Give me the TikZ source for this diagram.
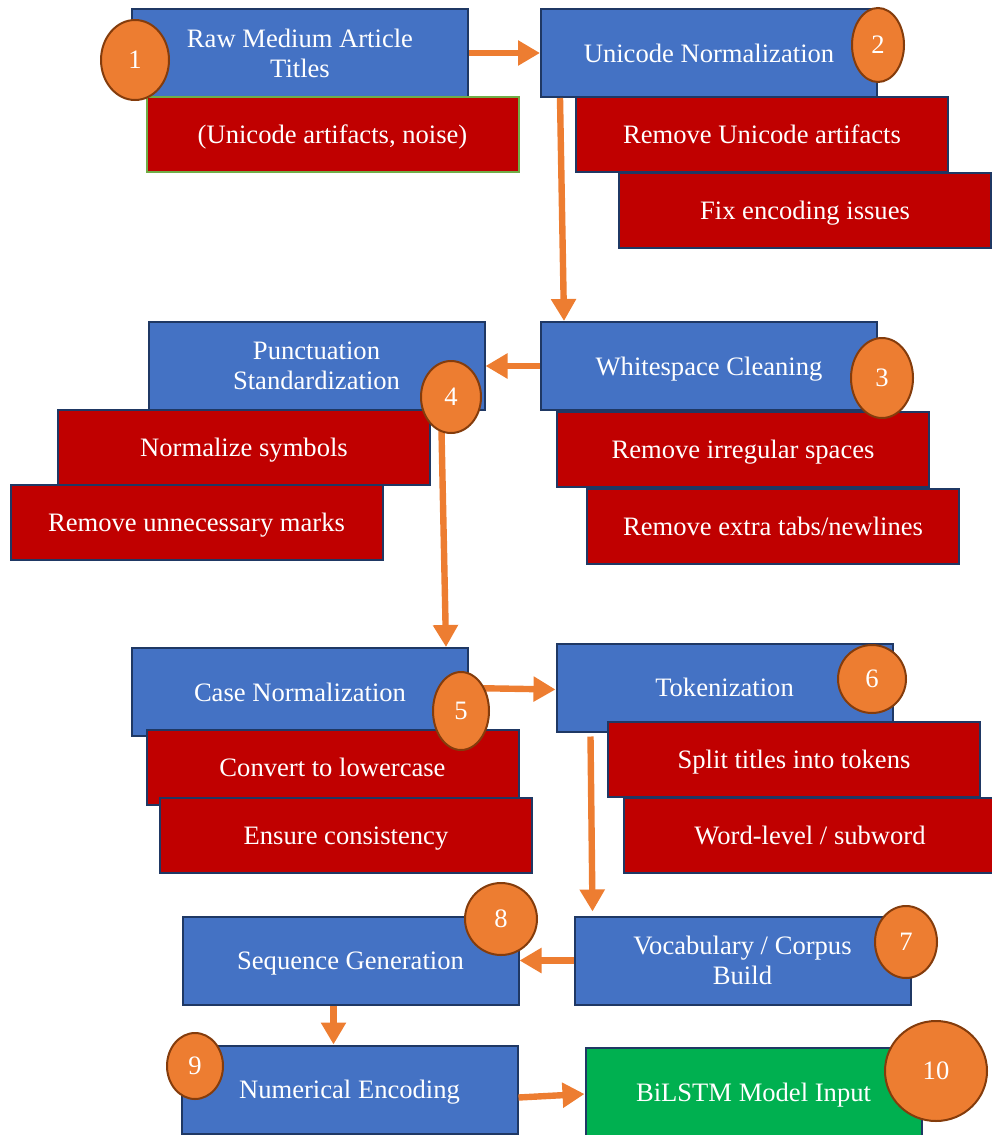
\documentclass[tikz,border=0pt]{standalone}
\usepackage{fontspec}
\setmainfont{Liberation Serif}
\usetikzlibrary{arrows.meta}
\usetikzlibrary{shapes.geometric}

\definecolor{stepblue}{HTML}{4472C4}
\definecolor{navy}{HTML}{1F3864}
\definecolor{darkred}{HTML}{C00000}
\definecolor{badgeorange}{HTML}{ED7D31}
\definecolor{badgeline}{HTML}{843C0C}
\definecolor{outgreen}{HTML}{00B050}
\definecolor{leafgreen}{HTML}{70AD47}

\begin{document}
\begin{tikzpicture}[x=0.5pt, y=-0.5pt,
    font=\fontsize{13.3}{15}\selectfont,
    mainbox/.style={draw=navy, line width=1pt, fill=stepblue, text=white, align=center,
        minimum width=168pt, minimum height=44pt, inner sep=0, text depth=0pt},
    subbox/.style={draw=navy, line width=1pt, fill=darkred, text=white,
        minimum width=186pt, minimum height=37.5pt, inner sep=0, text depth=0pt},
    badge/.style={draw=badgeline, line width=1pt, fill=badgeorange, text=white, ellipse,
        inner sep=0},
    flow/.style={draw=badgeorange, line width=3.2pt, -{Triangle[length=11pt, width=12pt]}}]
    \useasboundingbox (0,0) rectangle (991,1135);

    % blue steps
    \node [mainbox] (raw) at (300,53) {Raw Medium Article\\Titles};
    \node [mainbox] (unorm) at (709,53) {Unicode Normalization};
    \node [mainbox] (ws) at (709,366) {Whitespace Cleaning};
    \node [mainbox] (punct) at (316.5,366) {Punctuation\\Standardization};
    \node [mainbox] (case) at (300,692) {Case Normalization};
    \node [mainbox] (tok) at (724.5,687.5) {Tokenization};
    \node [mainbox] (vocab) at (742.5,960.5) {Vocabulary / Corpus\\Build};
    \node [mainbox] (seq) at (350.5,960.5) {Sequence Generation};
    \node [mainbox] (numenc) at (349.5,1089.5) {Numerical Encoding};
    \node [mainbox, fill=outgreen] (bilstm) at (753.5,1092) {BiLSTM Model Input};

    % red details
    \node [subbox, draw=leafgreen] (noise) at (332.5,134.5) {(Unicode artifacts, noise)};
    \node [subbox] (uart) at (762,134.5) {Remove Unicode artifacts};
    \node [subbox] (ufix) at (805,210.5) {Fix encoding issues};
    \node [subbox] (wsirr) at (743,449) {Remove irregular spaces};
    \node [subbox] (wstab) at (773,526) {Remove extra tabs/newlines};
    \node [subbox] (psym) at (244,447.5) {Normalize symbols};
    \node [subbox] (pmark) at (196.5,522.5) {Remove unnecessary marks};
    \node [subbox] (clow) at (332.5,767.5) {Convert to lowercase};
    \node [subbox] (ccons) at (346,835.5) {Ensure consistency};
    \node [subbox] (tsplit) at (794,759.5) {Split titles into tokens};
    \node [subbox] (tword) at (810,835) {Word-level / subword};

    % arrows
    \draw [flow] (raw.east) -- (unorm.west);
    \draw [flow] ([xshift=10pt]unorm.south west) -- ([xshift=12pt]ws.north west);
    \draw [flow] (ws.west) -- (punct.east);
    \draw [flow] ([xshift=-22pt, yshift=-10pt]punct.south east) -- ([xshift=-11.5pt]case.north east);
    \draw [flow] ([yshift=2pt]case.east) -- ([yshift=-1pt]tok.west);
    \draw [flow] ([xshift=17.5pt, yshift=-2pt]tok.south west) -- ([xshift=9.5pt, yshift=2pt]vocab.north west);
    \draw [flow] (vocab.west) -- (seq.east);
    \draw [flow] ([xshift=-8.5pt]seq.south) -- ([xshift=-8pt]numenc.north);
    \draw [flow] ([yshift=-4pt]numenc.east) -- ([yshift=-1pt]bilstm.west);

    % numbered badges
    \node [badge, minimum width=34pt, minimum height=40pt] (n1) at (135,60) {1};
    \node [badge, minimum width=26pt, minimum height=37pt] (n2) at (878,45) {2};
    \node [badge, minimum width=31pt, minimum height=40pt] (n3) at (882,378) {3};
    \node [badge, minimum width=30pt, minimum height=36pt] (n4) at (451,397) {4};
    \node [badge, minimum width=28pt, minimum height=39pt] (n5) at (461,711) {5};
    \node [badge, minimum width=34pt, minimum height=34pt] (n6) at (872,679) {6};
    \node [badge, minimum width=31pt, minimum height=36pt] (n7) at (906,942) {7};
    \node [badge, minimum width=36pt, minimum height=36pt] (n8) at (501,919) {8};
    \node [badge, minimum width=28pt, minimum height=33pt] (n9) at (195,1066) {9};
    \node [badge, minimum width=51pt, minimum height=50pt] (n10) at (936,1071) {10};
\end{tikzpicture}
\end{document}
